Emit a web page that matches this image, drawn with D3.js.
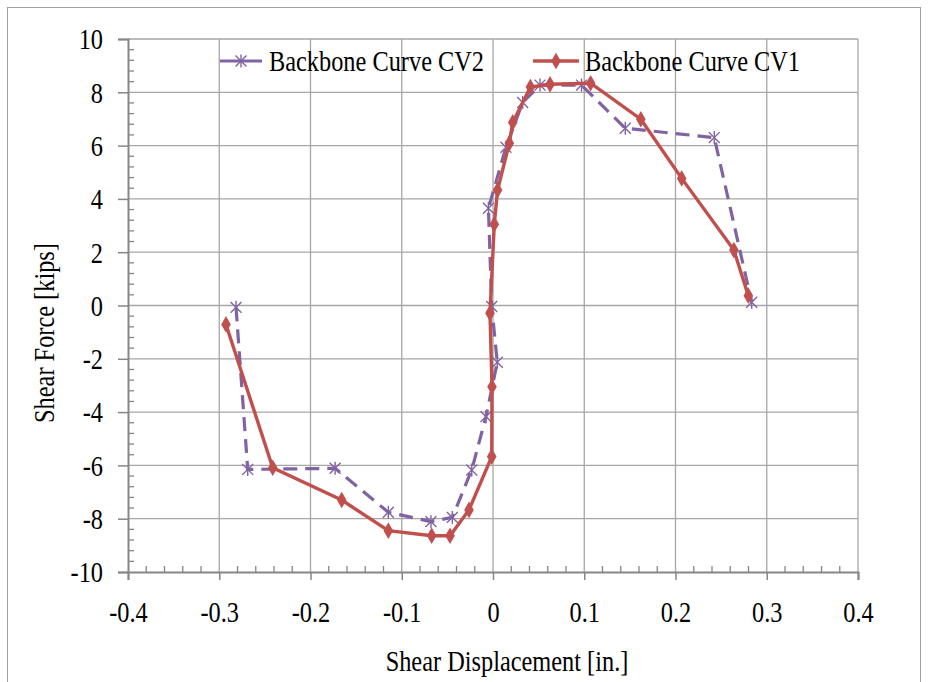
<!DOCTYPE html>
<html>
<head>
<meta charset="utf-8">
<script src="https://cdn.jsdelivr.net/npm/d3@7"></script>
<style>
  body { margin: 0; background: #fff; }
  text { font-family: 'Liberation Serif', 'Times New Roman', serif; fill: #000; }
</style>
</head>
<body>
<div id="chart"></div>
<script>
// backbone curves, shear displacement [in.] vs shear force [kips]
const cv2X = [-0.2816, -0.2688, -0.173, -0.1147, -0.068, -0.0446, -0.0233, -0.0077, 0.0047, -0.0014, -0.005, 0.0142, 0.0325, 0.0515, 0.097, 0.145, 0.2425, 0.2835]
const cv2Y = [-0.07, -6.15, -6.11, -7.76, -8.11, -7.95, -6.17, -4.17, -2.13, -0.04, 3.65, 5.94, 7.62, 8.27, 8.27, 6.65, 6.3, 0.12]
const cv1X = [-0.2926, -0.2414, -0.1658, -0.1147, -0.0672, -0.0471, -0.0263, -0.0014, -0.0011, -0.0033, 0.0014, 0.005, 0.0179, 0.0216, 0.041, 0.0625, 0.107, 0.162, 0.2068, 0.264, 0.2798]
const cv1Y = [-0.71, -6.09, -7.3, -8.45, -8.64, -8.64, -7.67, -5.67, -3.05, -0.29, 3.05, 4.33, 6.09, 6.87, 8.2, 8.3, 8.34, 6.99, 4.77, 2.08, 0.37]
const xTicks = [-0.4, -0.3, -0.2, -0.1, 0, 0.1, 0.2, 0.3, 0.4]
const yTicks = [-10, -8, -6, -4, -2, 0, 2, 4, 6, 8, 10]
const seriesNames = ['Backbone Curve CV2', 'Backbone Curve CV1']

const width = 928
const height = 682
const margin = { top: 39, left: 128, bottom: 110, right: 70 }
const purple = '#8064a2'
const red = '#c0504d'
const axisColor = '#868686'
const gridColor = '#a6a6a6'
// the source text is tall and narrow
const fs = 29
const sx = 0.84

const svg = d3.select('#chart').append('svg')
  .attr('width', width)
  .attr('height', height)

svg.append('rect')
  .attr('x', 7.5).attr('y', 7.5)
  .attr('width', 913).attr('height', 700)
  .attr('fill', 'none')
  .attr('stroke', '#a0a0a0')

const xScale = d3.scaleLinear().domain([-0.4, 0.4]).range([margin.left, width - margin.right])
const yScale = d3.scaleLinear().domain([-10, 10]).range([height - margin.bottom, margin.top])

const g = svg.append('g')

// grid
g.selectAll('.vgrid').data(xTicks.slice(1)).enter().append('line')
  .attr('x1', d => xScale(d)).attr('x2', d => xScale(d))
  .attr('y1', yScale(-10)).attr('y2', yScale(10))
  .attr('stroke', gridColor).attr('stroke-width', 1.3)
g.selectAll('.hgrid').data(yTicks.slice(1)).enter().append('line')
  .attr('x1', xScale(-0.4)).attr('x2', xScale(0.4))
  .attr('y1', d => yScale(d)).attr('y2', d => yScale(d))
  .attr('stroke', gridColor).attr('stroke-width', 1.3)

// axes
const fmt = d => String(+d.toFixed(1))
const xAxis = d3.axisBottom(xScale).tickValues(xTicks).tickSize(8).tickFormat(fmt)
const xAxisG = g.append('g')
  .attr('transform', 'translate(0,' + yScale(-10) + ')')
  .call(xAxis)
xAxisG.select('.domain').attr('stroke', axisColor).attr('stroke-width', 2)
xAxisG.selectAll('.tick line').attr('stroke', axisColor).attr('stroke-width', 1.5)
xAxisG.selectAll('.tick text')
  .attr('dy', 0).attr('y', 50)
  .attr('font-size', fs).attr('font-family', null).attr('fill', '#000')
  .attr('transform', 'scale(' + sx + ',1)')

const xMinor = d3.range(-0.4, 0.4001, 0.02).filter((d, i) => i % 5 !== 0)
g.selectAll('.xminor').data(xMinor).enter().append('line')
  .attr('x1', d => xScale(d)).attr('x2', d => xScale(d))
  .attr('y1', yScale(-10)).attr('y2', yScale(-10) - 6)
  .attr('stroke', axisColor).attr('stroke-width', 1.3)

const yAxis = d3.axisLeft(yScale).tickValues(yTicks).tickSize(10).tickFormat(fmt)
const yAxisG = g.append('g')
  .attr('transform', 'translate(' + xScale(-0.4) + ',0)')
  .call(yAxis)
yAxisG.select('.domain').attr('stroke', axisColor).attr('stroke-width', 2)
yAxisG.selectAll('.tick line').attr('stroke', axisColor).attr('stroke-width', 1.5)
yAxisG.selectAll('.tick text')
  .attr('x', -25 / sx).attr('dy', '0.34em')
  .attr('font-size', fs).attr('font-family', null).attr('fill', '#000')
  .attr('transform', 'scale(' + sx + ',1)')

const yMinor = d3.range(-10, 10.001, 0.4).filter((d, i) => i % 5 !== 0)
g.selectAll('.yminor').data(yMinor).enter().append('line')
  .attr('x1', xScale(-0.4)).attr('x2', xScale(-0.4) + 6)
  .attr('y1', d => yScale(d)).attr('y2', d => yScale(d))
  .attr('stroke', axisColor).attr('stroke-width', 1.3)

// axis titles
svg.append('text')
  .attr('transform', 'translate(507,671) scale(' + sx + ',1)')
  .attr('text-anchor', 'middle')
  .attr('font-size', fs)
  .text('Shear Displacement [in.]')
svg.append('text')
  .attr('transform', 'translate(54,333) rotate(-90) scale(' + sx + ',1)')
  .attr('text-anchor', 'middle')
  .attr('font-size', fs)
  .text('Shear Force [kips]')

// series
const line = d3.line().x(d => xScale(d[0])).y(d => yScale(d[1]))
const cv2 = cv2X.map((x, i) => [x, cv2Y[i]])
const cv1 = cv1X.map((x, i) => [x, cv1Y[i]])

g.append('path').datum(cv2)
  .attr('d', line)
  .attr('fill', 'none')
  .attr('stroke', purple)
  .attr('stroke-width', 3.2)
  .attr('stroke-dasharray', '14,8')

const star = d3.symbol().type(d3.symbolTimes).size(80)
function drawStar (sel) {
  sel.append('path').attr('d', star).attr('fill', 'none').attr('stroke', purple).attr('stroke-width', 1.4)
  sel.append('line').attr('y1', -6.5).attr('y2', 6.5).attr('stroke', purple).attr('stroke-width', 1.4)
}
g.selectAll('.cv2pt').data(cv2).enter().append('g')
  .attr('transform', d => 'translate(' + xScale(d[0]) + ',' + yScale(d[1]) + ')')
  .call(drawStar)

g.append('path').datum(cv1)
  .attr('d', line)
  .attr('fill', 'none')
  .attr('stroke', red)
  .attr('stroke-width', 3.4)

const diamond = d3.symbol().type(d3.symbolDiamond).size(80)
g.selectAll('.cv1pt').data(cv1).enter().append('path')
  .attr('d', diamond)
  .attr('transform', d => 'translate(' + xScale(d[0]) + ',' + yScale(d[1]) + ')')
  .attr('fill', red)

// legend
const leg = svg.append('g')
const l1 = leg.append('g').attr('transform', 'translate(220,61)')
l1.append('line').attr('x1', 0).attr('x2', 42).attr('stroke', purple).attr('stroke-width', 3.2)
l1.append('g').attr('transform', 'translate(21,0)').call(drawStar)
l1.append('text').attr('transform', 'translate(49,10) scale(' + sx + ',1)').attr('font-size', fs).text(seriesNames[0])

const l2 = leg.append('g').attr('transform', 'translate(533,61)')
l2.append('line').attr('x1', 0).attr('x2', 46).attr('stroke', red).attr('stroke-width', 3.4)
l2.append('path').attr('d', diamond).attr('transform', 'translate(23,0)').attr('fill', red)
l2.append('text').attr('transform', 'translate(52,10) scale(' + sx + ',1)').attr('font-size', fs).text(seriesNames[1])
</script>
</body>
</html>
